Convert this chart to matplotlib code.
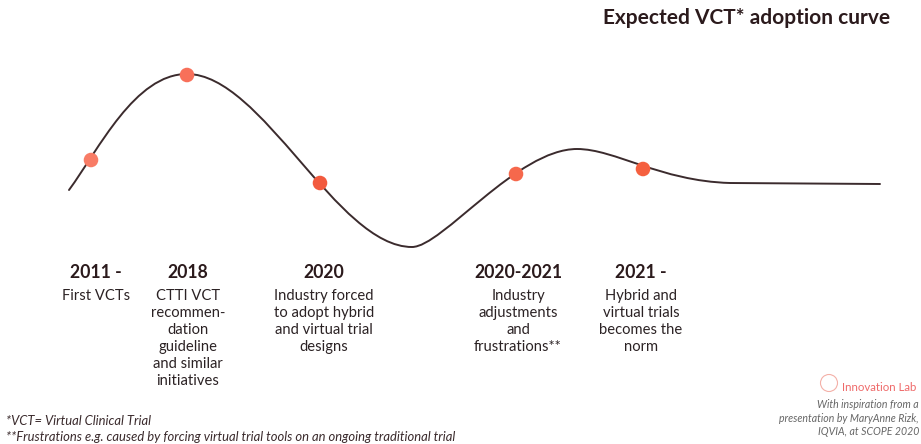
import matplotlib
matplotlib.use("Agg")
import matplotlib.pyplot as plt
from matplotlib.path import Path
from matplotlib.patches import PathPatch

plt.rcParams['font.family'] = ['Lato', 'DejaVu Sans']

# adoption curve: bezier anchors and handles (canvas units, y downwards)
curve_verts = [(69, 190), (99, 149), (135, 74), (187, 74),
               (262, 74), (337, 247), (412, 247),
               (442, 247), (517, 149), (577, 149),
               (615, 149), (660, 181), (730, 183),
               (880, 184)]
curve_codes = [Path.MOVETO] + [Path.CURVE4] * 12 + [Path.LINETO]

# milestones on the curve
milestone_x = [91, 187, 320, 516, 643]
milestone_y = [160, 75, 183, 174, 169]
milestone_colors = ['#f87c66', '#f8705a', '#f25a3e', '#f6684c', '#f5603f']

years = ['2011 -', '2018', '2020', '2020-2021', '2021 -']
descriptions = [
    'First VCTs',
    'CTTI VCT\nrecommen-\ndation\nguideline\nand similar\ninitiatives',
    'Industry forced\nto adopt hybrid\nand virtual trial\ndesigns',
    'Industry\nadjustments\nand\nfrustrations**',
    'Hybrid and\nvirtual trials\nbecomes the\nnorm',
]
label_x = [96, 188, 324, 518, 641]

footnotes = ['*VCT= Virtual Clinical Trial',
             '**Frustrations e.g. caused by forcing virtual trial tools on an ongoing traditional trial']
credit = 'With inspiration from a\npresentation by MaryAnne Rizk,\nIQVIA, at SCOPE 2020'

fig = plt.figure(figsize=(9.21, 4.44), dpi=100)
ax = fig.add_axes([0, 0, 1, 1])
ax.set_xlim(0, 921)
ax.set_ylim(444, 0)
ax.axis('off')

ax.add_patch(PathPatch(Path(curve_verts, curve_codes), facecolor='none',
                       edgecolor='#3b2b2d', lw=1.4, capstyle='round'))
ax.scatter(milestone_x, milestone_y, s=110, c=milestone_colors, zorder=3,
           edgecolors='none')

ax.text(890, 18, 'Expected VCT* adoption curve', ha='right', va='center',
        fontsize=15, fontweight='bold', color='#2b1a1c')

for x, yr, desc in zip(label_x, years, descriptions):
    ax.text(x, 272, yr, ha='center', va='center', fontsize=12.7,
            fontweight='bold', color='#2b1a1c')
    ax.text(x, 289, desc, ha='center', va='top', fontsize=10.6,
            color='#2b2224', linespacing=1.28)

ax.text(6, 421, footnotes[0], ha='left', va='center', fontsize=9.4,
        style='italic', color='#3a2a2c')
ax.text(6, 437, footnotes[1], ha='left', va='center', fontsize=9.4,
        style='italic', color='#3a2a2c')

# logo and credit
ax.scatter([829], [383], s=150, facecolors='none', edgecolors='#f4b0a8', lw=0.8)
ax.text(842, 387, 'Innovation Lab', ha='left', va='center', fontsize=8.3,
        color='#ef6a6a')
ax.text(919, 418, credit, ha='right', va='center', fontsize=7.6,
        style='italic', color='#666666', linespacing=1.3)

fig.savefig('out.png', dpi=100)
